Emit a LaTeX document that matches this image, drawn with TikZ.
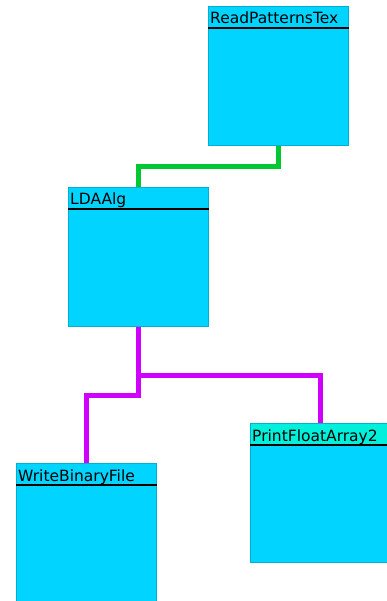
\documentclass[tikz,border=0pt]{standalone}
\usepackage{fontspec}
\newfontfamily\classfont{DejaVu Sans}
\usetikzlibrary{positioning,calc}
\definecolor{boxcyan}{HTML}{00D4FF}
\definecolor{boxedge}{HTML}{00AFD6}
\definecolor{titleteal}{HTML}{00F0DC}
\definecolor{linkgreen}{HTML}{00C832}
\definecolor{linkpurple}{HTML}{D000FF}

\begin{document}
\begin{tikzpicture}[x=1pt, y=-1pt,
    classBox/.style={draw=boxedge, fill=boxcyan, line width=1pt, minimum width=140pt, minimum height=139pt, inner sep=0pt, anchor=north west},
    classTitle/.style={anchor=base west, inner sep=0pt, font=\classfont\fontsize{15.5}{18}\selectfont},
    titleRule/.style={draw=black, line width=2pt},
    useLink/.style={draw=linkgreen, line width=5pt},
    callLink/.style={draw=linkpurple, line width=5pt}
]
    \clip (0,0) rectangle (387,601);

    % class boxes
    \node[classBox] (read) at (208,6) {};
    \node[classBox] (lda) at (68,187) {};
    \node[classBox] (print) at (250,423) {};
    \node[classBox] (write) at (16,463) {};

    % teal title bar
    \fill[titleteal] ($(print.north west)+(0.5,0.5)$) rectangle ($(print.north east)+(-0.5,22)$);

    % titles with their rules
    \node[classTitle] (readTitle) at ($(read.north west)+(2,18)$) {ReadPatternsTex};
    \node[classTitle] (ldaTitle) at ($(lda.north west)+(2,18)$) {LDAAlg};
    \node[classTitle] (printTitle) at ($(print.north west)+(2,18)$) {PrintFloatArray2};
    \node[classTitle] (writeTitle) at ($(write.north west)+(2,18)$) {WriteBinaryFile};
    \draw[titleRule] ($(read.north west)+(0,22)$) -- ($(read.north east)+(0,22)$);
    \draw[titleRule] ($(lda.north west)+(0,22)$) -- ($(lda.north east)+(0,22)$);
    \draw[titleRule] ($(print.north west)+(0,22)$) -- ($(print.north east)+(0,22)$);
    \draw[titleRule] ($(write.north west)+(0,22)$) -- ($(write.north east)+(0,22)$);

    % links
    \draw[useLink] (read.south) -- ++(0,21) -| (lda.north);
    \draw[callLink] (lda.south) -- ++(0,48) coordinate (fork) -| (print.north);
    \draw[callLink] (fork) -- ++(0,20) -| (write.north);
\end{tikzpicture}
\end{document}
